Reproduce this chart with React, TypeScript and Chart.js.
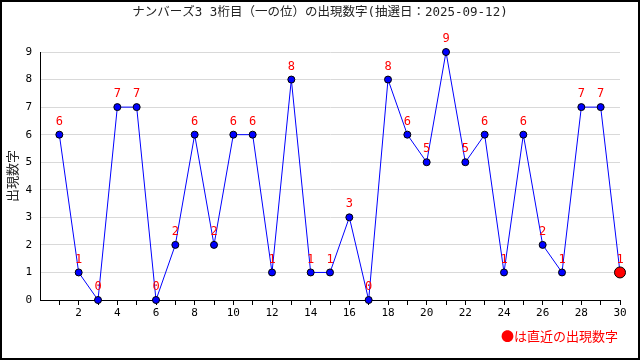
import React, { useEffect, useRef } from "react";
import { Chart, registerables } from "chart.js";

Chart.register(...registerables);

const titleText = "ナンバーズ3 3桁目（一の位）の出現数字(抽選日：2025-09-12)";
const yAxisTitle = "出現数字";
const legendText = "●は直近の出現数字";
const draws = [1, 2, 3, 4, 5, 6, 7, 8, 9, 10, 11, 12, 13, 14, 15, 16, 17, 18, 19, 20, 21, 22, 23, 24, 25, 26, 27, 28, 29, 30];
const digits = [6, 1, 0, 7, 7, 0, 2, 6, 2, 6, 6, 1, 8, 1, 1, 3, 0, 8, 6, 5, 9, 5, 6, 1, 6, 2, 1, 7, 7, 1];
const yTicks = [0, 1, 2, 3, 4, 5, 6, 7, 8, 9];

const FONT = '"DejaVu Sans Mono", "Noto Sans CJK JP", sans-serif';
const JFONT = '"Noto Sans CJK JP", sans-serif';

const decorPlugin = {
  id: "decor",
  afterDatasetsDraw(chart: any) {
    const ctx = chart.ctx;
    const meta = chart.getDatasetMeta(0);
    ctx.save();
    ctx.fillStyle = "#ff0000";
    ctx.font = `12px ${FONT}`;
    ctx.textAlign = "center";
    ctx.textBaseline = "middle";
    meta.data.forEach((pt: any, i: number) => {
      ctx.fillText(String(digits[i]), pt.x, pt.y - 13);
    });
    ctx.restore();
  },
  afterDraw(chart: any) {
    const ctx = chart.ctx;
    const { width, height, chartArea } = chart;
    ctx.save();
    ctx.fillStyle = "#222";
    ctx.font = `12.5px ${FONT}`;
    ctx.textAlign = "center";
    ctx.textBaseline = "middle";
    ctx.fillText(titleText, width / 2, 13);
    ctx.translate(12, (chartArea.top + chartArea.bottom) / 2);
    ctx.rotate(-Math.PI / 2);
    ctx.font = `13px ${JFONT}`;
    ctx.fillText(yAxisTitle, 0, 0);
    ctx.restore();
    ctx.save();
    ctx.fillStyle = "#ff0000";
    ctx.font = `13px ${JFONT}`;
    ctx.textAlign = "right";
    ctx.textBaseline = "middle";
    ctx.fillText(legendText, 618, 336);
    ctx.strokeStyle = "#000";
    ctx.lineWidth = 2;
    ctx.strokeRect(1, 1, width - 2, height - 2);
    ctx.restore();
  },
};

export default function App() {
  const ref = useRef<HTMLCanvasElement>(null);
  useEffect(() => {
    document.body.style.margin = "0";
    const last = digits.length - 1;
    const chart = new Chart(ref.current!, {
      type: "line",
      data: {
        datasets: [
          {
            data: draws.map((d, i) => ({ x: d, y: digits[i] })),
            borderColor: "#0000ff",
            borderWidth: 1,
            tension: 0,
            clip: false,
            pointBackgroundColor: digits.map((_, i) => (i === last ? "#ff0000" : "#0000ff")),
            pointBorderColor: "#000",
            pointBorderWidth: 1,
            pointRadius: digits.map((_, i) => (i === last ? 5.5 : 3.5)),
          },
        ],
      },
      options: {
        animation: false,
        responsive: false,
        layout: { padding: { left: 0, right: 20, top: 52, bottom: 0 } },
        plugins: { legend: { display: false }, title: { display: false }, tooltip: { enabled: false } },
        scales: {
          x: {
            type: "linear",
            min: 0,
            max: 30,
            afterFit: (s: any) => { s.height = 60; },
            afterBuildTicks: (s: any) => { s.ticks = draws.map((v) => ({ value: v })); },
            grid: { drawOnChartArea: false, tickLength: 5, color: "#000" },
            border: { color: "#000" },
            ticks: {
              autoSkip: false,
              maxRotation: 0,
              padding: 2,
              color: "#000",
              font: { size: 11, family: FONT },
              callback: (v: any) => (Number(v) % 2 === 0 ? String(v) : ""),
            },
          },
          y: {
            min: 0,
            max: 9,
            afterFit: (s: any) => { s.width = 40; },
            afterBuildTicks: (s: any) => { s.ticks = yTicks.map((v) => ({ value: v })); },
            grid: { drawTicks: false, color: (c: any) => (c.tick && c.tick.value === 0 ? "#000" : "#d9d9d9") },
            border: { color: "#000" },
            ticks: { padding: 8, color: "#000", font: { size: 11, family: FONT } },
          },
        },
      },
      plugins: [decorPlugin],
    } as any);
    return () => chart.destroy();
  }, []);
  return (
    <div style={{ position: "absolute", left: 0, top: 0, width: 640, height: 360, background: "#fff" }}>
      <canvas ref={ref} width={640} height={360} style={{ display: "block" }} />
    </div>
  );
}
